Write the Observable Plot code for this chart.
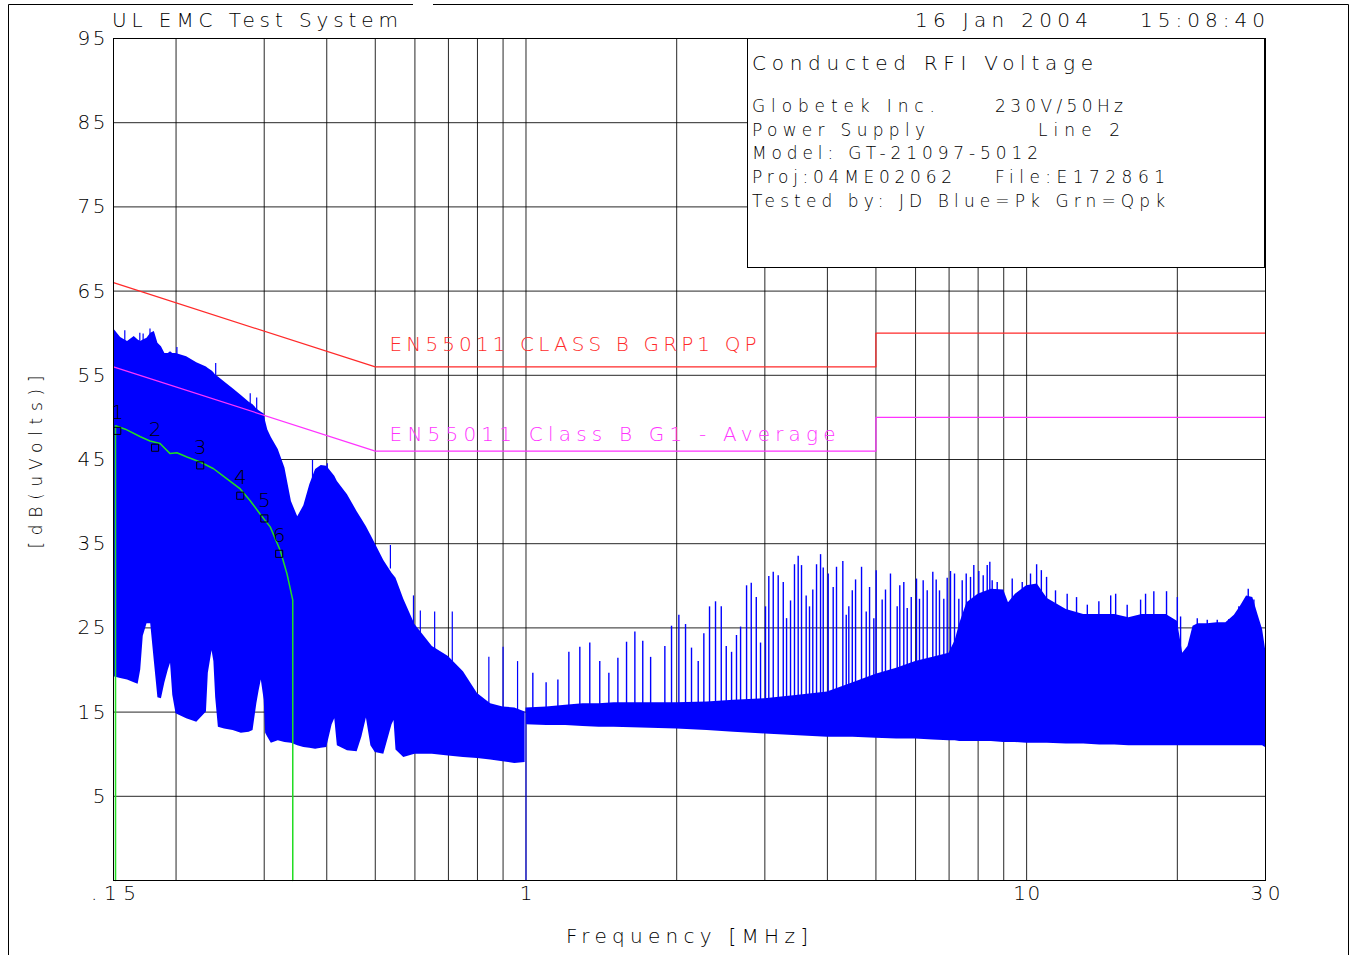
<!DOCTYPE html>
<html><head><meta charset="utf-8">
<script src="https://cdn.jsdelivr.net/npm/d3@7"></script>
<script src="https://cdn.jsdelivr.net/npm/@observablehq/plot@0.6"></script>
<style>
html,body{margin:0;padding:0;background:#fff;}
#chart svg{display:block;}
#chart svg text{font-family:"DejaVu Sans",Roboto,sans-serif;font-weight:200;}
</style></head><body><div id="chart"></div>
<script>
// ---------- data ----------
// Peak sweep 1 (0.15 - 1 MHz): envelope of the blue trace
const freqA = [0.1502,0.155,0.16,0.165,0.168,0.17,0.172,0.175,0.178,0.181,0.184,0.187,0.19,0.193,0.195,0.197,0.2,0.21,0.22,0.23,0.232,0.236,0.238,0.24,0.243,0.25,0.26,0.27,0.28,0.285,0.29,0.293,0.296,0.3,0.302,0.305,0.31,0.32,0.33,0.34,0.35,0.36,0.37,0.38,0.39,0.4,0.41,0.415,0.42,0.44,0.46,0.47,0.48,0.49,0.5,0.52,0.54,0.545,0.55,0.57,0.6,0.65,0.7,0.75,0.8,0.85,0.9,0.95,0.996];
const hiA = [60.5,59.5,59.0,59.6,59.2,59.0,59.2,59.4,60.0,60.2,58.8,58.4,57.6,57.6,57.8,57.6,57.6,57.2,56.5,56.0,55.8,55.5,55.3,55.0,54.8,54.2,53.4,52.6,51.8,51.5,51.0,50.8,50.6,50.4,49.5,48.5,47.6,46.2,44.0,40.0,38.2,39.5,42.0,43.8,44.3,44.2,43.4,43.0,42.4,40.8,38.8,37.9,37.0,36.0,35.0,33.0,31.5,31.2,30.9,28.4,25.4,22.8,21.6,19.8,17.2,16.0,15.6,15.5,15.0];
const loA = [19.2,19.0,18.8,18.5,18.3,20.0,24.0,25.5,25.5,21.0,16.7,16.6,18.5,20.0,20.8,17.0,14.8,14.2,13.8,15.0,19.6,22.3,21.0,16.7,13.2,13.0,12.8,12.5,12.6,12.8,16.0,17.5,18.8,16.4,12.5,12.0,11.3,11.6,11.4,11.3,11.0,10.8,10.7,10.6,10.7,10.8,13.5,14.2,11.0,10.4,10.3,12.0,14.3,11.0,10.2,10.0,13.5,14.0,10.5,9.6,10.0,10.0,9.8,9.6,9.5,9.3,9.1,8.9,9.0];
const spikeFreqA = [0.158,0.1693,0.1719,0.1774,0.2008,0.24,0.2813,0.2898,0.3746,0.401,0.536,0.596,0.6151,0.657,0.7125,0.843,0.9,0.962];
const spikePeakA = [60.3,60.0,59.9,60.5,58.3,56.4,52.8,52.3,44.9,44.5,34.8,28.8,27.0,26.9,26.9,21.5,22.7,21.0];
const spikeBaseA = [58.0,58.0,58.0,58.0,56.0,54.0,50.0,50.0,42.0,42.0,32.0,24.0,24.0,22.0,21.0,15.5,15.0,15.0];

// Peak sweep 2 (1 - 30 MHz): noise band envelope
const freqB = [1.0,1.1,1.2,1.3,1.4,1.5,1.7,2.0,2.3,2.6,3.0,3.5,4.0,4.5,5.0,5.5,6.0,6.5,7.0,7.2,7.35,7.6,8.0,8.5,9.0,9.2,9.5,10,10.5,11,12,13,14,15,16,17,18,19,20,20.5,21,21.5,22,23,24,25,26,26.7,27.5,28.3,29,29.6,30];
const hiB = [15.5,15.6,15.8,16.0,16.0,16.1,16.1,16.1,16.2,16.4,16.6,17.0,17.4,18.5,19.5,20.2,21.0,21.5,22.0,23.5,25.5,28.0,29.0,29.6,29.5,28.0,29.0,30.0,30.2,28.5,27.2,26.6,26.6,26.6,26.2,26.6,26.6,26.6,25.8,22.0,22.8,25.2,25.5,25.5,25.6,25.6,26.5,27.5,28.8,28.6,26.5,24.8,22.5];
const loB = [13.5,13.4,13.4,13.3,13.2,13.2,13.1,13.0,12.8,12.6,12.4,12.2,12.0,12.0,11.9,11.8,11.8,11.7,11.6,11.6,11.5,11.5,11.5,11.5,11.4,11.4,11.4,11.3,11.3,11.3,11.2,11.2,11.1,11.1,11.0,11.0,11.0,11.0,11.0,11.0,11.0,11.0,11.0,11.0,11.0,11.0,11.0,11.0,11.0,11.0,11.0,11.0,10.8];
// harmonic spikes on sweep 2
const spikeFreqB = [1.032,1.097,1.158,1.218,1.281,1.341,1.404,1.464,1.526,1.588,1.650,1.711,1.774,1.894,1.953,2.020,2.083,2.141,2.208,2.266,2.326,2.391,2.455,2.512,2.574,2.633,2.683,2.758,2.818,2.884,2.941,3.009,3.055,3.118,3.190,3.265,3.315,3.376,3.438,3.497,3.551,3.628,3.684,3.740,3.805,3.876,3.924,4.015,4.108,4.171,4.294,4.362,4.414,4.485,4.553,4.680,4.782,4.856,4.952,5.006,5.146,5.225,5.346,5.514,5.580,5.684,5.774,5.882,6.026,6.109,6.214,6.330,6.495,6.597,6.698,6.832,6.940,7.046,7.177,7.321,7.436,7.574,7.725,7.843,8.026,8.190,8.342,8.443,8.535,8.734,9.359,9.800,10.18,10.47,10.70,10.96,11.42,12.05,12.58,13.22,13.94,14.72,15.06,15.88,16.89,17.28,17.95,19.03,20.0,20.30,21.92,22.95,24.03,25.35,26.54,27.71,28.44];
const spikePeakB = [19.6,18.5,18.8,22.1,22.7,23.2,21.0,19.6,21.4,23.3,24.5,23.4,21.5,22.8,25.2,26.5,25.4,22.6,21.0,24.3,27.5,28.1,27.5,22.8,22.1,24.1,25.1,30.0,30.3,28.6,23.2,27.5,31.1,31.6,31.2,30.4,26.1,28.2,32.5,33.5,32.4,28.8,27.5,29.5,32.5,33.7,32.1,31.4,29.8,32.2,32.9,26.5,27.5,29.4,30.7,32.2,26.9,29.8,26.1,31.8,28.3,29.5,31.4,27.5,30.0,30.4,27.3,28.6,30.8,28.4,30.6,29.4,31.6,30.7,29.4,28.4,30.9,31.7,31.4,28.4,30.6,31.4,31.0,32.4,31.7,31.2,32.4,32.8,30.6,30.4,30.8,30.4,31.4,32.5,31.8,31.0,29.4,29.0,28.6,27.7,28.1,28.8,29.0,27.7,28.3,29.0,29.3,29.3,28.6,26.3,26.1,25.9,25.9,26.0,27.5,29.6,28.3];
// sweep start lines (trace rises from the bottom)
const sweepStartFreq = [0.15, 1.0];
const sweepStartTop = [19.2, 13.5];

// Quasi-peak (green) trace
const qpkF = [0.1514,0.1514,0.1584,0.1698,0.1774,0.1858,0.1946,0.2008,0.2103,0.2235,0.2377,0.2528,0.2687,0.2813,0.2946,0.3084,0.323,0.3332,0.3421,0.3421];
const qpkV = [-5,49,48.6,47.7,47.2,46.9,45.7,45.8,45.3,44.7,43.9,42.7,41.5,40.1,38.5,37,34.2,31.4,28.3,-5];

// markers
const markerN = ["1","2","3","4","5","6"];
const markerF = [0.1526,0.1816,0.2235,0.2687,0.3002,0.3214];
const markerV = [48.4,46.4,44.3,40.7,38.0,33.8];

// limit lines EN55011 class B group 1
const limitF = [0.15,0.5,5,5,30];
const qpLimitV = [66,56,56,60,60];
const avLimitV = [56,46,46,50,50];
const limitLabelText = ["EN55011 CLASS B GRP1 QP","EN55011 Class B G1 - Average"];
const limitLabelF = [0.534,0.534];
const limitLabelV = [58.7,47.9];
const limitColors = ["#ff2a2a","#ff33ff"];

// axes
const gridFreqs = [0.2,0.3,0.4,0.5,0.6,0.7,0.8,0.9,1,2,3,4,5,6,7,8,9,10,20];
const gridLevels = [5,15,25,35,45,55,65,75,85];
const xTicks = [0.15,1,10,30];
const xTickLabels = [".15","1","10","30"];
const yTicks = [5,15,25,35,45,55,65,75,85,95];

// ---------- build rows ----------
const rowsA = freqA.map((f,i)=>({f, hi:hiA[i], lo:loA[i]}));
const rowsB = freqB.map((f,i)=>({f, hi:hiB[i], lo:loB[i]}));
const spikesA = spikeFreqA.map((f,i)=>({f, v:spikePeakA[i], b:spikeBaseA[i]}));
const spikesB = spikeFreqB.map((f,i)=>({f, v:spikePeakB[i]}));
const starts = sweepStartFreq.map((f,i)=>({f, top:sweepStartTop[i]}));
const qpk = qpkF.map((f,i)=>({f, v:qpkV[i]}));
const markers = markerN.map((n,i)=>({n, f:markerF[i], v:markerV[i]}));
const qpLimit = limitF.map((f,i)=>({f, v:qpLimitV[i]}));
const avLimit = limitF.map((f,i)=>({f, v:avLimitV[i]}));
const limitLabels = limitLabelText.map((t,i)=>({t, f:limitLabelF[i], v:limitLabelV[i], c:limitColors[i]}));
const xLabelMap = new Map(xTicks.map((d,i)=>[d, xTickLabels[i]]));

const BLUE = "#0000ff";
const plot = Plot.plot({
  width: 1354, height: 955,
  marginLeft: 113, marginRight: 89, marginTop: 38, marginBottom: 75,
  style: {fontSize: "20px", background: "#fff", color: "#000"},
  x: {type: "log", domain: [0.15, 30]},
  y: {domain: [-5, 95]},
  marks: [
    Plot.gridX(gridFreqs, {stroke: "#000", strokeOpacity: 0.85}),
    Plot.gridY(gridLevels, {stroke: "#000", strokeOpacity: 0.85}),
    Plot.areaY(rowsA, {x: "f", y1: "lo", y2: "hi", fill: BLUE}),
    Plot.areaY(rowsB, {x: "f", y1: "lo", y2: "hi", fill: BLUE}),
    Plot.ruleX(spikesA, {x: "f", y1: "b", y2: "v", stroke: BLUE, strokeWidth: 1.2}),
    Plot.ruleX(spikesB, {x: "f", y1: 14, y2: "v", stroke: BLUE, strokeWidth: 1.4}),
    Plot.ruleX(starts, {x: "f", y1: -5, y2: "top", stroke: BLUE, strokeWidth: 1}),
    Plot.line(qpLimit, {x: "f", y: "v", stroke: limitColors[0], strokeWidth: 1.2}),
    Plot.line(avLimit, {x: "f", y: "v", stroke: limitColors[1], strokeWidth: 1.2}),
    Plot.line(qpk, {x: "f", y: "v", stroke: "#22dd22", strokeWidth: 1.5}),
    Plot.dot(markers, {x: "f", y: "v", symbol: "square", r: 4, stroke: "#000", fill: "none", strokeWidth: 1}),
    Plot.text(markers, {x: "f", y: "v", text: "n", dy: -18, fill: "#000"}),
    Plot.text(limitLabels, {x: "f", y: "v", text: "t", fill: "c", textAnchor: "start"}),
    Plot.frame({stroke: "#000"}),
    Plot.axisX(xTicks, {tickSize: 0, tickPadding: 5, label: null, tickFormat: d => xLabelMap.get(d)}),
    Plot.axisY(yTicks, {tickSize: 0, tickPadding: 8, label: null})
  ]
});
document.getElementById("chart").appendChild(plot);

// ---------- annotations ----------
const svg = d3.select(plot);
const pageFrame = svg.append("g").attr("stroke", "#000").attr("fill", "none");
pageFrame.append("path").attr("d", "M8.5,955V4.5H413M433,4.5H1348.5V955");
svg.append("rect").attr("x", 747.5).attr("y", 38.5).attr("width", 517).attr("height", 229)
  .attr("fill", "#fff").attr("stroke", "#000");

// spread a text so that its glyphs span `width` pixels (plotter font pitch)
function fit(el, width) {
  const n = el.textContent.length;
  if (n < 2 || !width) return;
  const nat = el.getComputedTextLength();
  const ls = (width - nat) / (n - 1);
  el.style.letterSpacing = ls + "px";
  const anchor = getComputedStyle(el).textAnchor;
  const shift = anchor === "end" ? ls : anchor === "middle" ? ls / 2 : 0;
  if (shift) {
    const old = parseFloat(el.getAttribute("dx") || "0") || 0;
    el.setAttribute("dx", old + shift);
  }
}
function addText(str, x, y, size, width, opts = {}) {
  const t = svg.append("text").attr("x", x).attr("y", y).attr("font-size", size)
    .attr("fill", opts.fill || "#000").attr("text-anchor", opts.anchor || "start").text(str);
  if (opts.rotate) t.attr("transform", `rotate(${opts.rotate},${x},${y})`);
  fit(t.node(), width);
  return t;
}
addText("UL EMC Test System", 112, 27, 20, 286);
addText("16 Jan 2004", 915, 27, 20, 173);
addText("15:08:40", 1140, 27, 20, 125);
addText("Conducted RFI Voltage", 752, 70, 20, 341);
addText("Globetek Inc.", 752, 112, 17, 183);
addText("230V/50Hz", 995, 112, 17, 128);
addText("Power Supply", 752, 136, 17, 173);
addText("Line 2", 1038, 136, 17, 82);
addText("Model: GT-21097-5012", 752, 159, 17, 286);
addText("Proj:04ME02062", 752, 183, 17, 200);
addText("File:E172861", 995, 183, 17, 170);
addText("Tested by: JD Blue=Pk Grn=Qpk", 752, 207, 17, 413);
addText("Frequency [MHz]", 687, 943, 20, 242, {anchor: "middle"});
addText("[dB(uVolts)]", 42, 462, 17, 173, {anchor: "middle", rotate: -90});

const widths = new Map([["95",28],["85",28],["75",28],["65",28],["55",28],["45",28],["35",28],["25",28],["15",28],
  [".15",45],["10",27],["30",30],[limitLabelText[0],367],[limitLabelText[1],446]]);
svg.selectAll("text").each(function() {
  if (this.style.letterSpacing) return;
  const w = widths.get(this.textContent);
  if (w) fit(this, w);
});
</script></body></html>
